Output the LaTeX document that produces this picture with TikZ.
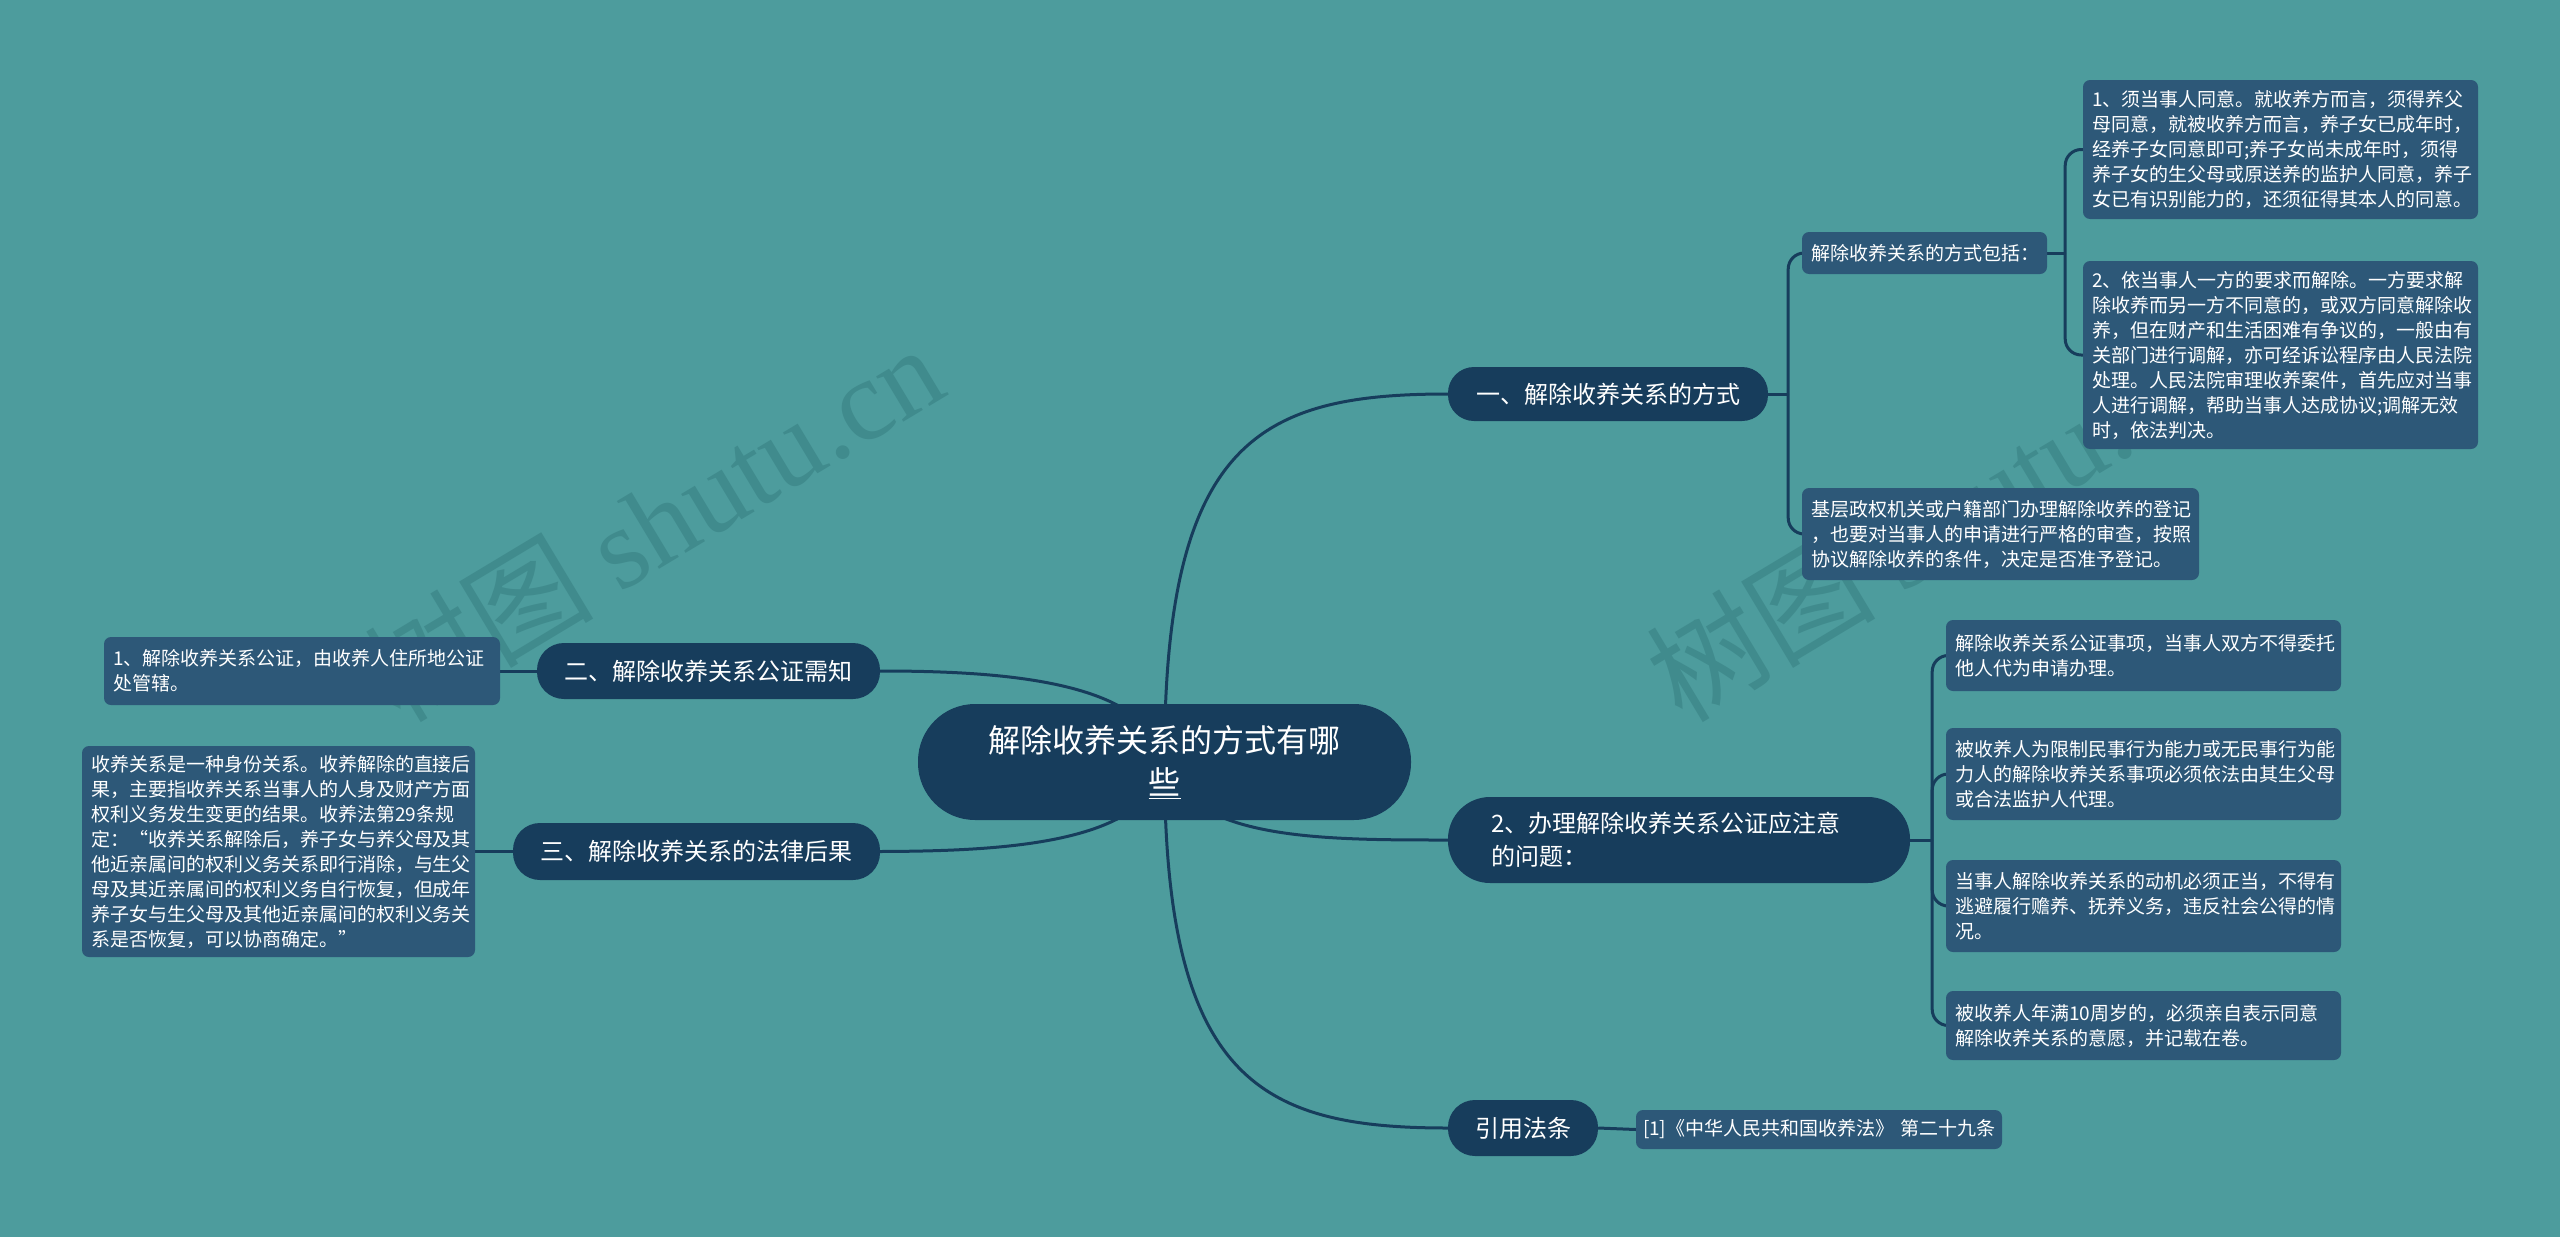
\documentclass[tikz,border=0pt]{standalone}
\usepackage{fontspec}
\usetikzlibrary{backgrounds}
\setmainfont{Noto Sans CJK SC}
\newfontfamily\wmserif{Liberation Serif}
\newfontfamily\wmcjk{Noto Sans CJK SC}
\definecolor{bg}{RGB}{77,156,157}
\definecolor{navy}{RGB}{23,61,92}
\definecolor{boxc}{RGB}{45,88,120}
\definecolor{wm}{RGB}{64,139,141}
\begin{document}
\begin{tikzpicture}[x=1pt,y=-1pt,
  conn/.style={draw=navy,line width=3pt},
  elbow/.style={draw=navy,line width=3pt,rounded corners=16pt},
  pill/.style={fill=navy,text=white,font=\fontsize{24}{33}\selectfont,inner sep=0pt,align=center},
  leaf/.style={fill=boxc,text=white,font=\fontsize{19}{25}\selectfont,rounded corners=7pt,inner xsep=9pt,inner ysep=0pt,align=left,text width=377pt},
  wmark/.style={rotate=31,text=wm,font=\fontsize{115}{115}\selectfont,inner sep=0pt}
]
\useasboundingbox (0,0) rectangle (2560,1237);
\begin{scope}[on background layer]
\fill[bg] (0,0) rectangle (2560,1237);
\end{scope}

% watermarks
\node[wmark] (wm1) at (653,522) {\wmcjk 树图 \wmserif shutu.cn};
\node[wmark] (wm2) at (1935,522) {\wmcjk 树图 \wmserif shutu.cn};

% root and main branches
\node[pill,font=\fontsize{32}{42}\selectfont,minimum width=493pt,minimum height=116pt,rounded corners=57pt] (c) at (1164.5,762) {解除收养关系的方式有哪\\\underline{些}};
\node[pill,minimum width=320pt,minimum height=54pt,rounded corners=26pt] (b1) at (1608,394) {一、解除收养关系的方式};
\node[pill,minimum height=86pt,rounded corners=42pt,inner xsep=43pt,text width=376pt,align=left] (b2) at (1679,840) {2、办理解除收养关系公证应注意\\的问题：};
\node[pill,minimum width=150pt,minimum height=56pt,rounded corners=27pt] (b3) at (1523,1128) {引用法条};
\node[pill,minimum width=343pt,minimum height=56pt,rounded corners=27pt] (l1) at (708.5,671) {二、解除收养关系公证需知};
\node[pill,minimum width=367pt,minimum height=57pt,rounded corners=27pt] (l2) at (696.5,851.5) {三、解除收养关系的法律后果};

% branch 1 children
\node[leaf,text width=227pt,minimum height=42pt] (b1a) at (1924.5,253) {解除收养关系的方式包括：};
\node[leaf,minimum height=139pt] (b1a1) at (2280.5,149.5) {1、须当事人同意。就收养方而言，须得养父\\母同意，就被收养方而言，养子女已成年时，\\经养子女同意即可;养子女尚未成年时，须得\\养子女的生父母或原送养的监护人同意，养子\\女已有识别能力的，还须征得其本人的同意。};
\node[leaf,minimum height=188pt] (b1a2) at (2280.5,355) {2、依当事人一方的要求而解除。一方要求解\\除收养而另一方不同意的，或双方同意解除收\\养，但在财产和生活困难有争议的，一般由有\\关部门进行调解，亦可经诉讼程序由人民法院\\处理。人民法院审理收养案件，首先应对当事\\人进行调解，帮助当事人达成协议;调解无效\\时，依法判决。};
\node[leaf,text width=379pt,minimum height=92pt] (b1b) at (2000.5,534) {基层政权机关或户籍部门办理解除收养的登记\\，也要对当事人的申请进行严格的审查，按照\\协议解除收养的条件，决定是否准予登记。};

% branch 2 children
\node[leaf,minimum height=71pt] (b2a) at (2143.5,655.5) {解除收养关系公证事项，当事人双方不得委托\\他人代为申请办理。};
\node[leaf,minimum height=92pt] (b2b) at (2143.5,774) {被收养人为限制民事行为能力或无民事行为能\\力人的解除收养关系事项必须依法由其生父母\\或合法监护人代理。};
\node[leaf,minimum height=92pt] (b2c) at (2143.5,906) {当事人解除收养关系的动机必须正当，不得有\\逃避履行赡养、抚养义务，违反社会公得的情\\况。};
\node[leaf,minimum height=69pt] (b2d) at (2143.5,1025.5) {被收养人年满10周岁的，必须亲自表示同意\\解除收养关系的意愿，并记载在卷。};

% branch 3 child
\node[leaf,text width=352pt,inner xsep=7pt,minimum height=39pt] (b3a) at (1819,1129.5) {[1]《中华人民共和国收养法》~第二十九条};

% left children
\node[leaf,text width=378pt,minimum height=68pt] (l1a) at (302,671) {1、解除收养关系公证，由收养人住所地公证\\处管辖。};
\node[leaf,text width=375pt,minimum height=211pt] (l2a) at (278.5,851.5) {收养关系是一种身份关系。收养解除的直接后\\果，主要指收养关系当事人的人身及财产方面\\权利义务发生变更的结果。收养法第29条规\\定：“收养关系解除后，养子女与养父母及其\\他近亲属间的权利义务关系即行消除，与生父\\母及其近亲属间的权利义务自行恢复，但成年\\养子女与生父母及其他近亲属间的权利义务关\\系是否恢复，可以协商确定。”};

% spine coordinates
\coordinate (s1) at ([xshift=20pt]b1.east);
\coordinate (s1a) at ([xshift=18pt]b1a.east);
\coordinate (s2) at ([xshift=22pt]b2.east);

% connectors (behind nodes)
\begin{scope}[on background layer]
\draw[conn] (c.center) .. controls (1164,440) and (1260,394) .. (b1.west);
\draw[conn] (c.center) .. controls (1190,840) and (1320,840) .. (b2.west);
\draw[conn] (c.center) .. controls (1164,1080) and (1260,1128) .. (b3.west);
\draw[conn] (c.center) .. controls (1150,680) and (1000,671) .. (l1.east);
\draw[conn] (c.center) .. controls (1150,845) and (1000,851) .. (l2.east);
\draw[conn] (b1.east) -- (s1);
\draw[elbow] (s1) |- (b1a.west);
\draw[elbow] (s1) |- (b1b.west);
\draw[conn] (b1a.east) -- (s1a);
\draw[elbow] (s1a) |- (b1a1.west);
\draw[elbow] (s1a) |- (b1a2.west);
\draw[conn] (b2.east) -- (s2);
\draw[elbow] (s2) |- (b2a.west);
\draw[elbow] (s2) |- (b2b.west);
\draw[elbow] (s2) |- (b2c.west);
\draw[elbow] (s2) |- (b2d.west);
\draw[conn] (b3.east) -- (b3a.west);
\draw[conn] (l1.west) -- (l1a.east);
\draw[conn] (l2.west) -- (l2a.east);
\end{scope}
\end{tikzpicture}
\end{document}
